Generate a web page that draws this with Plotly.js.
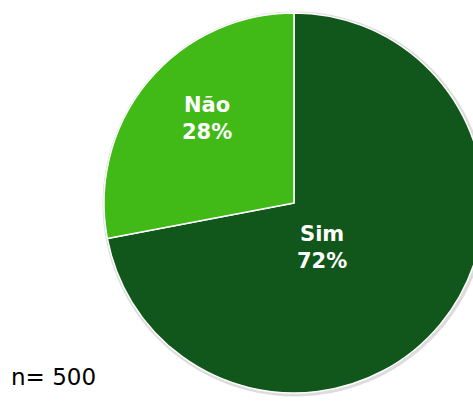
<!DOCTYPE html>
<html>
<head>
<meta charset="utf-8">
<script src="https://cdn.plot.ly/plotly-3.0.1.min.js"></script>
<style>
html,body{margin:0;padding:0;background:#fff;overflow:hidden;width:473px;height:408px;}
#chart{width:520px;height:408px;}
</style>
</head>
<body>
<div id="chart"></div>
<script>
const categories = ["Sim", "Não"];
const values = [72, 28];
const colors = ["#11561A", "#41B917"];
const sampleNote = "n= 500";

const W = 520, H = 408;
const cx = 294, cy = 203, r = 190;

function dom(cxp, cyp, rr) {
  return {x: [(cxp - rr) / W, (cxp + rr) / W], y: [(H - cyp - rr) / H, (H - cyp + rr) / H]};
}

const shadow = {
  type: "pie",
  values: [1],
  labels: ["shadow"],
  marker: {colors: ["#dcdcdc"], line: {width: 0}},
  textinfo: "none",
  hoverinfo: "none",
  showlegend: false,
  domain: dom(cx + 1, cy + 1, r + 2.5)
};

const trace = {
  type: "pie",
  labels: categories,
  values: values,
  sort: false,
  direction: "clockwise",
  rotation: 0,
  marker: {colors: colors, line: {color: "#ffffff", width: 1.5}},
  textinfo: "none",
  hoverinfo: "none",
  showlegend: false,
  domain: dom(cx, cy, r)
};

const total = values.reduce((a, b) => a + b, 0);
const labelPos = [[322, 247], [207, 119]];
const annotations = categories.map((c, i) => ({
  text: "<b>" + c + "</b><br><b>" + Math.round(values[i] / total * 100) + "%</b>",
  xref: "paper", yref: "paper",
  x: labelPos[i][0] / W, y: (H - labelPos[i][1]) / H,
  xanchor: "center", yanchor: "middle", showarrow: false, align: "center",
  font: {family: "DejaVu Sans", size: 21, color: "#ffffff"}
}));
annotations.push({
  text: sampleNote, xref: "paper", yref: "paper",
  x: 9 / W, y: (H - 377) / H, xanchor: "left", yanchor: "middle",
  showarrow: false,
  font: {family: "DejaVu Sans", size: 23, color: "#000000"}
});

const layout = {
  width: W, height: H,
  margin: {l: 0, r: 0, t: 0, b: 0},
  paper_bgcolor: "#ffffff",
  showlegend: false,
  annotations: annotations
};

Plotly.newPlot("chart", [shadow, trace], layout, {staticPlot: true, displayModeBar: false});
</script>
</body>
</html>
